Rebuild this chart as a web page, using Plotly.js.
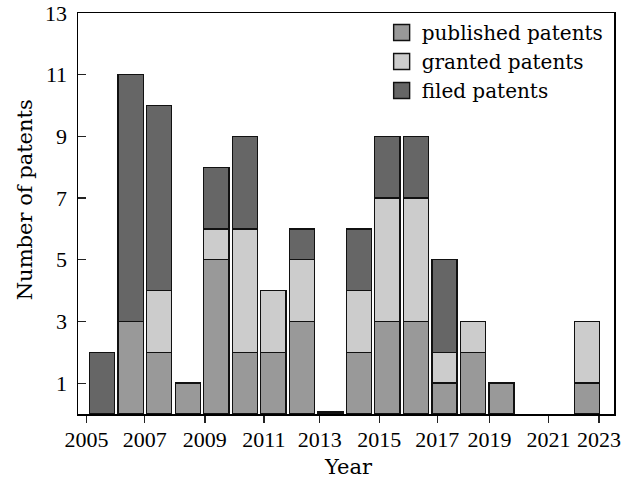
<!DOCTYPE html>
<html><head><meta charset="utf-8">
<script src="https://cdn.plot.ly/plotly-3.0.1.min.js"></script>
<style>html,body{margin:0;padding:0;background:#fff;}#chart{width:636px;height:479px;}</style>
</head><body><div id="chart"></div>
<script>
const years = [2005,2006,2007,2008,2009,2010,2011,2012,2013,2014,2015,2016,2017,2018,2019,2020,2021,2022];
const published = [null,3,2,1,5,2,2,3,0.06,2,3,3,1,2,1,null,null,1];
const granted   = [null,null,2,null,1,4,2,2,null,2,4,4,1,1,null,null,null,2];
const filed     = [2,8,6,null,2,3,null,1,null,2,2,2,3,null,null,null,null,null];
const seriesNames = ['published patents','granted patents','filed patents'];
const tickLabels = ['2005','2007','2009','2011','2013','2015','2017','2019','2021','2023'];
const yTicks = [1,3,5,7,9,11,13];

const colors = ['#999999','#cccccc','#666666'];
const tickPositions = [2004.45,2006.49,2008.6,2010.67,2012.63,2014.72,2016.75,2018.58,2020.65,2022.42];
const series = [published, granted, filed];

const traces = [];
series.forEach((vals,i)=>{
  traces.push({type:'bar', x:years, y:vals, name:seriesNames[i], width:0.88,
    marker:{color:colors[i], line:{color:'#111', width:1.4}}, showlegend:false, hoverinfo:'x+y'});
});
series.forEach((vals,i)=>{
  traces.push({type:'scatter', mode:'markers', x:[null], y:[null], name:seriesNames[i],
    marker:{symbol:'square', size:16, color:colors[i], line:{color:'#111', width:1.4}}});
});

const numFont = {family:'Liberation Serif, serif', size:22, color:'#000'};
const txtFont = {family:'DejaVu Serif, serif', size:21, color:'#000'};

Plotly.newPlot('chart', traces, {
  width:636, height:479,
  margin:{l:78, r:22, t:13, b:65},
  paper_bgcolor:'#fff', plot_bgcolor:'#fff',
  barmode:'stack',
  xaxis:{range:[2004.151,2022.95], tickmode:'array', tickvals:tickPositions, ticktext:tickLabels,
    ticks:'outside', ticklen:7, tickwidth:1.3, tickcolor:'#222', showline:true, mirror:true,
    linecolor:'#000', linewidth:1.5, showgrid:false, zeroline:false, tickfont:numFont, ticklabelstandoff:-2},
  yaxis:{range:[0,13], tickmode:'array', tickvals:yTicks, ticktext:yTicks.map(String),
    ticks:'inside', ticklen:8, tickwidth:1.3, tickcolor:'#222', showline:true, mirror:true,
    linecolor:'#000', linewidth:1.5, showgrid:false, zeroline:false, tickfont:numFont, ticklabelstandoff:5},
  legend:{x:0.99, xanchor:'right', y:1, yanchor:'top', bgcolor:'rgba(0,0,0,0)', font:{family:'DejaVu Serif, serif', size:20, color:'#000'}, traceorder:'normal'},
  annotations:[
    {text:'Year', xref:'paper', yref:'paper', x:0.505, y:-0.132, xanchor:'center', yanchor:'middle', showarrow:false, font:txtFont},
    {text:'Number of patents', xref:'paper', yref:'paper', x:-0.1, y:0.534, xanchor:'center', yanchor:'middle', textangle:-90, showarrow:false, font:txtFont}
  ]
}, {displayModeBar:false, staticPlot:true});
</script></body></html>
